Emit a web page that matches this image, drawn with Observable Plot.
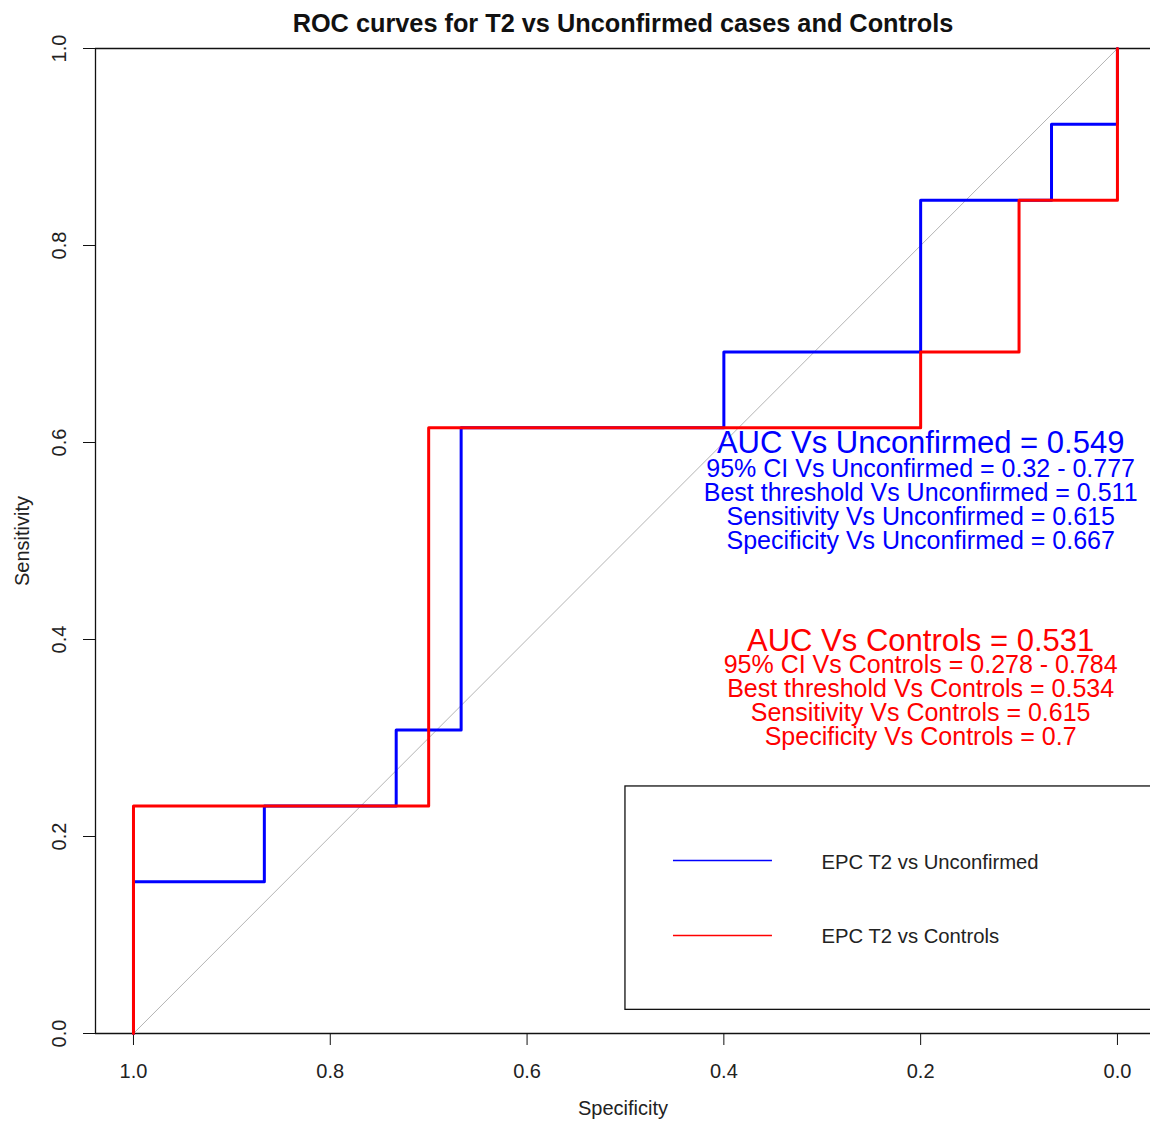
<!DOCTYPE html>
<html>
<head>
<meta charset="utf-8">
<script src="https://cdn.jsdelivr.net/npm/d3@7"></script>
<script src="https://cdn.jsdelivr.net/npm/@observablehq/plot@0.6"></script>
<style>
  html, body { margin: 0; padding: 0; background: #fff; overflow: hidden; }
  #chart svg { display: block; }
</style>
</head>
<body>
<div id="chart"></div>
<script>
// ---- Data ----
const title = "ROC curves for T2 vs Unconfirmed cases and Controls";
const xLabel = "Specificity";
const yLabel = "Sensitivity";
const xTicks = [1.0, 0.8, 0.6, 0.4, 0.2, 0.0];
const yTicks = [0.0, 0.2, 0.4, 0.6, 0.8, 1.0];

// EPC T2 vs Unconfirmed (corner points of the ROC step curve)
const unconfSpec = [1, 1, 0.867, 0.867, 0.733, 0.733, 0.667, 0.667, 0.4, 0.4, 0.2, 0.2, 0.067, 0.067, 0, 0];
const unconfSens = [0, 0.154, 0.154, 0.231, 0.231, 0.308, 0.308, 0.615, 0.615, 0.692, 0.692, 0.846, 0.846, 0.923, 0.923, 1];

// EPC T2 vs Controls
const ctrlSpec = [1, 1, 0.7, 0.7, 0.2, 0.2, 0.1, 0.1, 0, 0];
const ctrlSens = [0, 0.231, 0.231, 0.615, 0.615, 0.692, 0.692, 0.846, 0.846, 1];

const seriesNames = ["EPC T2 vs Unconfirmed", "EPC T2 vs Controls"];
const seriesColors = ["#0000ff", "#ff0000"];

// Statistics printed on the chart
const unconfStats = {auc: "0.549", ci: ["0.32", "0.777"], thr: "0.511", sens: "0.615", spec: "0.667"};
const ctrlStats = {auc: "0.531", ci: ["0.278", "0.784"], thr: "0.534", sens: "0.615", spec: "0.7"};

// ---- Build tables ----
const curves = [
  ...unconfSpec.map((s, i) => ({series: seriesNames[0], spec: s, sens: unconfSens[i]})),
  ...ctrlSpec.map((s, i) => ({series: seriesNames[1], spec: s, sens: ctrlSens[i]}))
];
function statLines(name, st) {
  return [
    `95% CI Vs ${name} = ${st.ci[0]} - ${st.ci[1]}`,
    `Best threshold Vs ${name} = ${st.thr}`,
    `Sensitivity Vs ${name} = ${st.sens}`,
    `Specificity Vs ${name} = ${st.spec}`
  ].join("\n");
}

const font = "'Liberation Sans', Arial, Helvetica, sans-serif";
const xDomain = [1.0386, -0.0336];
const labelX = 0.2;
const mid = {textAnchor: "middle", lineAnchor: "middle"};

const chart = Plot.plot({
  width: 1150,
  height: 1122,
  marginTop: 48,
  marginBottom: 89,
  marginLeft: 95,
  marginRight: 0,
  style: {fontFamily: font, background: "#fff", color: "#111"},
  x: {domain: xDomain, axis: null},
  y: {domain: [0, 1], axis: null},
  color: {domain: seriesNames, range: seriesColors},
  marks: [
    // frame: top, bottom, left (right side falls outside the image)
    Plot.ruleY([1], {stroke: "#111", strokeWidth: 1.3}),
    Plot.ruleY([0], {stroke: "#111", strokeWidth: 1.3}),
    Plot.ruleX([xDomain[0]], {stroke: "#111", strokeWidth: 1.3}),
    // axis ticks
    Plot.axisX({ticks: xTicks, tickSize: 12, tickFormat: () => "", label: null, stroke: "#111"}),
    Plot.axisY({ticks: yTicks, tickSize: 12, tickFormat: () => "", label: null, stroke: "#111"}),
    // tick labels
    Plot.text(xTicks, {x: d => d, frameAnchor: "bottom", dy: 38, ...mid, text: d => d.toFixed(1), fontSize: 20, fill: "#222"}),
    Plot.text(yTicks, {y: d => d, frameAnchor: "left", dx: -36, ...mid, rotate: -90, text: d => d.toFixed(1), fontSize: 20, fill: "#222"}),
    // axis titles and chart title
    Plot.text([xLabel], {frameAnchor: "bottom", dy: 75, ...mid, fontSize: 20, fill: "#222"}),
    Plot.text([yLabel], {frameAnchor: "left", dx: -73, ...mid, rotate: -90, fontSize: 20, fill: "#222"}),
    Plot.text([title], {frameAnchor: "top", dy: -25, ...mid, fontSize: 25.3, fontWeight: "bold", fill: "#111"}),
    // chance diagonal
    Plot.link([0], {x1: 1, y1: 0, x2: 0, y2: 1, stroke: "#b4b4b4", strokeWidth: 1}),
    // ROC curves
    Plot.line(curves, {x: "spec", y: "sens", z: "series", stroke: "series", strokeWidth: 3}),
    // statistics
    Plot.text([`AUC Vs Unconfirmed = ${unconfStats.auc}`], {x: labelX, y: 0.599, fontSize: 31, fill: seriesColors[0]}),
    Plot.text([statLines("Unconfirmed", unconfStats)], {x: labelX, y: 0.5365, fontSize: 25, lineHeight: 0.96, fill: seriesColors[0]}),
    Plot.text([`AUC Vs Controls = ${ctrlStats.auc}`], {x: labelX, y: 0.398, fontSize: 31, fill: seriesColors[1]}),
    Plot.text([statLines("Controls", ctrlStats)], {x: labelX, y: 0.3375, fontSize: 25, lineHeight: 0.96, fill: seriesColors[1]}),
    // legend
    Plot.rect([0], {x1: 0.5, x2: -0.2, y1: 0.024, y2: 0.2508, fill: "#fff", stroke: "#111", strokeWidth: 1.3, clip: true}),
    Plot.ruleY(seriesNames, {y: (d, i) => 0.1756 - i * 0.0761, x1: 0.4512, x2: 0.3506, stroke: (d, i) => seriesColors[i], strokeWidth: 1.5}),
    Plot.text(seriesNames, {y: (d, i) => 0.1735 - i * 0.0753, x: 0.3008, textAnchor: "start", fontSize: 20.3, fill: "#222"})
  ]
});
document.getElementById("chart").appendChild(chart);
</script>
</body>
</html>
